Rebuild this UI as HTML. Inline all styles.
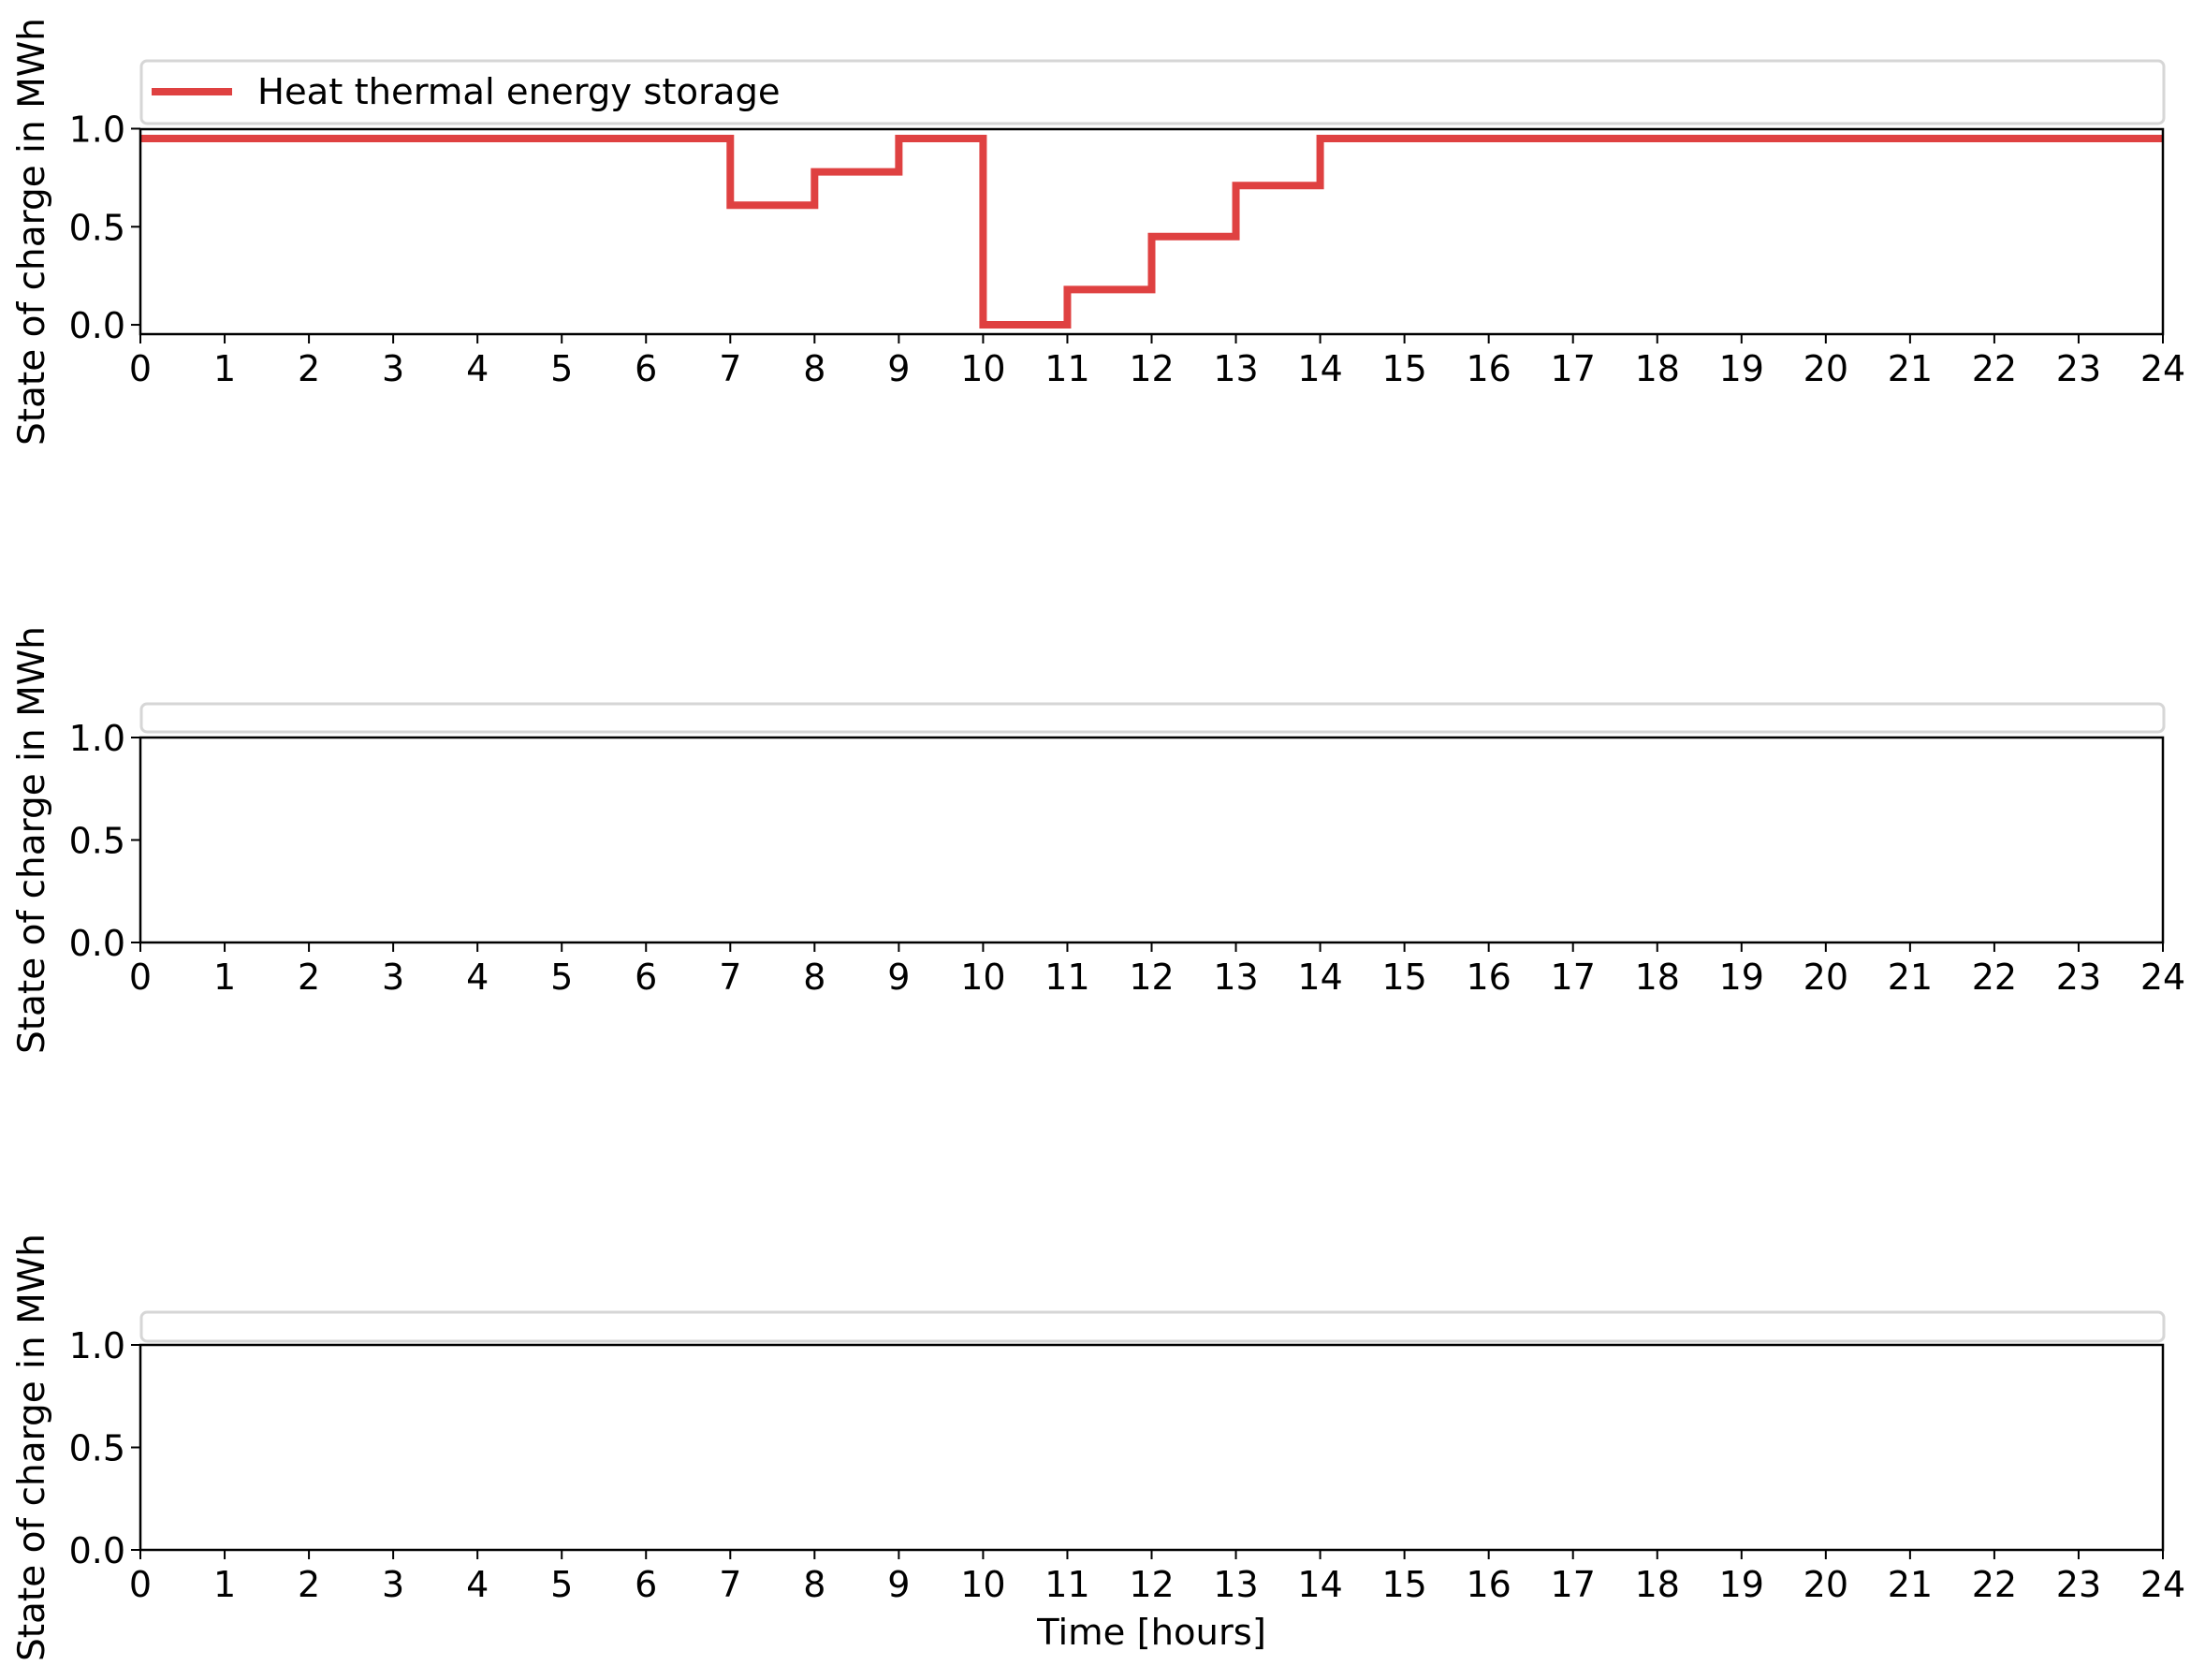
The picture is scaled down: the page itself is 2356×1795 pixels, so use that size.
<!DOCTYPE html>
<html><head><meta charset="utf-8"><style>
html,body{margin:0;padding:0;background:#fff;}
svg{display:block;font-family:"DejaVu Sans","Liberation Sans",sans-serif;}
</style></head><body>
<svg id="chart" width="2356" height="1795" viewBox="0 0 2356 1795"></svg>
<script>
const hours = [0,1,2,3,4,5,6,7,8,9,10,11,12,13,14,15,16,17,18,19,20,21,22,23,24];
const heatSoc = [0.95,0.95,0.95,0.95,0.95,0.95,0.95,0.61,0.78,0.95,0.0,0.18,0.45,0.71,0.95,0.95,0.95,0.95,0.95,0.95,0.95,0.95,0.95,0.95,0.95];
const yTicks = [0.0,0.5,1.0];
const yTickLabels = ["0.0","0.5","1.0"];
const seriesName = "Heat thermal energy storage";
const yLabel = "State of charge in MWh";
const xLabel = "Time [hours]";

const NS = "http://www.w3.org/2000/svg";
const svg = document.getElementById('chart');
function mk(tag, attrs, parent){const e=document.createElementNS(NS,tag);for(const k in attrs)e.setAttribute(k,attrs[k]);(parent||svg).appendChild(e);return e;}

const X0=150, X1=2311;
function xs(h){return X0+(h-0)/(24-0)*(X1-X0);}
const panels=[
  {top:138,bottom:357,ymin:-0.0475,ymax:0.9975,legTop:65,legBot:132,data:heatSoc},
  {top:788,bottom:1007,ymin:0,ymax:1,legTop:752,legBot:782,data:null},
  {top:1437,bottom:1656,ymin:0,ymax:1,legTop:1402,legBot:1433,data:null}
];
panels.forEach((p,i)=>{
  const g=mk('g',{});
  
  
  const ys=v=>p.bottom-(v-p.ymin)/(p.ymax-p.ymin)*(p.bottom-p.top);
  const lb=mk('rect',{x:X0+1,y:p.legTop,width:X1-X0,height:p.legBot-p.legTop,rx:6,fill:'#fff',stroke:'#d6d6d6','stroke-width':3},g);
  
  
  if(p.data){
    let d='';
    for(let k=0;k<hours.length-1;k++){
      const x0=xs(hours[k]),x1=xs(hours[k+1]),y=ys(p.data[k]);
      d+=(k===0?'M':'L')+x0+','+y+' L'+x1+','+y+' ';
    }
    const path=mk('path',{d:d,fill:'none',stroke:'#df4141','stroke-width':8,'stroke-linejoin':'miter'},g);
    
    
    const ll=mk('line',{x1:162,x2:248,y1:98,y2:98,stroke:'#df4141','stroke-width':8},g);
    
    
    const lt=mk('text',{x:275,y:111,'font-size':38.5,fill:'#000'},g);
    lt.textContent=seriesName;
    
    
  }
  const fr=mk('rect',{x:X0,y:p.top,width:X1-X0,height:p.bottom-p.top,fill:'none',stroke:'#000','stroke-width':2.5},g);
  
  
  yTicks.forEach((t,j)=>{
    const y=ys(t);
    mk('line',{x1:X0-10,x2:X0,y1:y,y2:y,stroke:'#000','stroke-width':2},g);
    const tx=mk('text',{x:X0-16,y:y+14,'font-size':38,'text-anchor':'end'},g);
    tx.textContent=yTickLabels[j];
    
    
  });
  hours.forEach(h=>{
    const x=xs(h);
    mk('line',{x1:x,x2:x,y1:p.bottom,y2:p.bottom+10,stroke:'#000','stroke-width':2},g);
    const tx=mk('text',{x:x,y:p.bottom+50,'font-size':38,'text-anchor':'middle'},g);
    tx.textContent=String(h);
    
    
  });
  const cy=(p.top+p.bottom)/2;
  const yl=mk('text',{x:0,y:0,'font-size':39,'text-anchor':'middle',transform:'translate(47,'+cy+') rotate(-90)'},g);
  yl.textContent=yLabel;
  
  
});
const xl=mk('text',{x:(X0+X1)/2,y:1757,'font-size':38.5,'text-anchor':'middle'});
xl.textContent=xLabel;


</script>
</body></html>
